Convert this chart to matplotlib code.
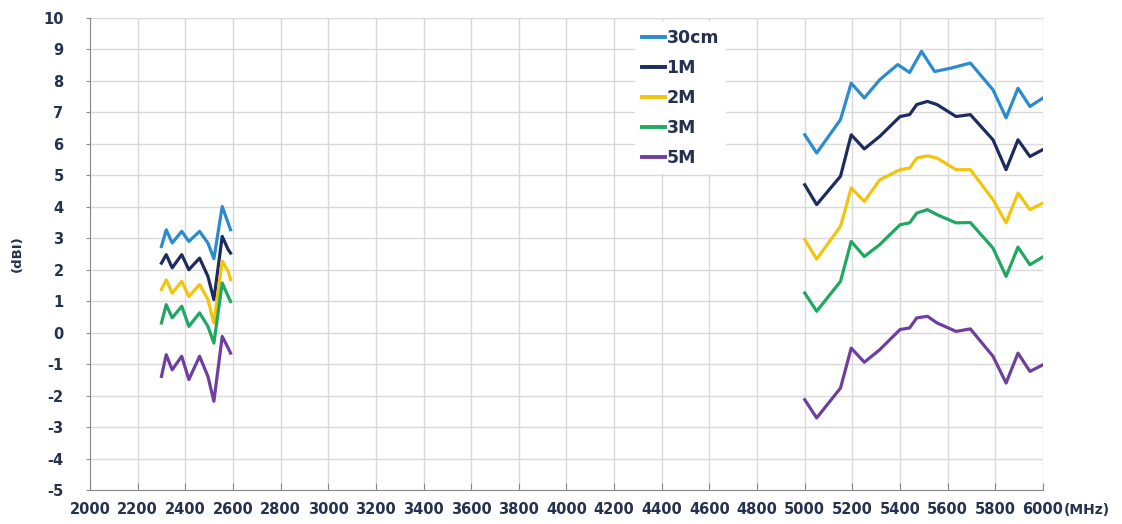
import numpy as np
import matplotlib.pyplot as plt

# Gain vs frequency at different distances
freq_low = [2300, 2320, 2345, 2385, 2415, 2460, 2495, 2520, 2555, 2580, 2590]
low_30cm = [2.74, 3.27, 2.85, 3.22, 2.90, 3.22, 2.85, 2.35, 4.01, 3.48, 3.27]
low_1m = [2.21, 2.48, 2.06, 2.48, 2.00, 2.37, 1.79, 1.05, 3.06, 2.64, 2.53]
low_2m = [1.37, 1.68, 1.26, 1.63, 1.15, 1.53, 1.05, 0.31, 2.27, 1.95, 1.68]
low_3m = [0.31, 0.89, 0.47, 0.84, 0.20, 0.63, 0.20, -0.33, 1.58, 1.15, 0.99]
low_5m = [-1.39, -0.70, -1.18, -0.75, -1.49, -0.75, -1.39, -2.18, -0.12, -0.49, -0.65]

freq_high_30cm = [5000, 5050, 5150, 5195, 5250, 5315, 5390, 5440, 5490, 5545, 5615, 5695, 5790, 5845, 5895, 5945, 6000]
high_30cm = [6.29, 5.71, 6.77, 7.93, 7.46, 8.04, 8.52, 8.27, 8.94, 8.30, 8.41, 8.57, 7.72, 6.83, 7.77, 7.19, 7.46]

freq_high = [5000, 5050, 5150, 5195, 5250, 5315, 5400, 5440, 5470, 5515, 5555, 5635, 5695, 5790, 5845, 5895, 5945, 6000]
high_1m = [4.70, 4.07, 4.97, 6.29, 5.84, 6.24, 6.87, 6.93, 7.25, 7.35, 7.25, 6.87, 6.93, 6.13, 5.18, 6.13, 5.60, 5.82]
high_2m = [2.96, 2.34, 3.38, 4.60, 4.17, 4.86, 5.18, 5.23, 5.55, 5.62, 5.55, 5.18, 5.18, 4.23, 3.49, 4.44, 3.91, 4.12]
high_3m = [1.26, 0.68, 1.63, 2.90, 2.42, 2.80, 3.43, 3.49, 3.80, 3.91, 3.75, 3.49, 3.50, 2.69, 1.79, 2.72, 2.16, 2.41]
high_5m = [-2.13, -2.71, -1.76, -0.49, -0.94, -0.54, 0.10, 0.15, 0.47, 0.52, 0.31, 0.04, 0.12, -0.75, -1.60, -0.65, -1.23, -1.02]

labels = ['30cm', '1M', '2M', '3M', '5M']
colors = ['#2a8ccf', '#1c2c5e', '#f2c40c', '#1ea862', '#6f3f9e']

x_ticks = list(range(2000, 6001, 200))
y_ticks = list(range(-5, 11))

text_color = '#26304f'
plt.rcParams['font.family'] = ['DejaVu Sans']
plt.rcParams['axes.unicode_minus'] = False

fig = plt.figure(figsize=(11.22, 5.24), dpi=100)
ax = fig.add_axes([0.0802, 0.0649, 0.8494, 0.9007])

low_sets = [low_30cm, low_1m, low_2m, low_3m, low_5m]
high_sets = [high_30cm, high_1m, high_2m, high_3m, high_5m]
high_freqs = [freq_high_30cm, freq_high, freq_high, freq_high, freq_high]

for lab, col, lo, hf, hi in zip(labels, colors, low_sets, high_freqs, high_sets):
    ax.plot(freq_low, lo, color=col, lw=2.3, solid_joinstyle='round', label=lab)
    ax.plot(hf, hi, color=col, lw=2.3, solid_joinstyle='round')

ax.set_xlim(2000, 6000)
ax.set_ylim(-5, 10)
ax.set_xticks(x_ticks)
ax.set_yticks(y_ticks)
ax.grid(True, color='#d9d9d9', lw=1)
ax.set_axisbelow(True)

for s in ['top', 'right']:
    ax.spines[s].set_visible(False)
for s in ['left', 'bottom']:
    ax.spines[s].set_color('#8a8a8a')

ax.tick_params(axis='x', direction='in', length=5, color='#8a8a8a', pad=9,
               labelsize=10.5, labelcolor=text_color)
ax.tick_params(axis='y', direction='out', length=3, color='#8a8a8a', pad=16,
               labelsize=10.5, labelcolor=text_color)
for t in ax.get_xticklabels() + ax.get_yticklabels():
    t.set_fontweight('bold')

ax.set_ylabel('(dBI)', fontsize=9.5, fontweight='bold', color=text_color, labelpad=14)
ax.text(1.022, -0.043, '(MHz)', transform=ax.transAxes, fontsize=10,
        fontweight='bold', color=text_color, ha='left', va='center')

leg = ax.legend(loc='upper left', bbox_to_anchor=(0.563, 1.01), frameon=True,
                fancybox=False, edgecolor='none', facecolor='white', framealpha=1,
                handlelength=1.3, handletextpad=0.1, labelspacing=0.69,
                prop={'weight': 'bold', 'size': 12.5})
for t in leg.get_texts():
    t.set_color(text_color)
for h in leg.get_lines():
    h.set_linewidth(2.8)

plt.savefig('out.png', dpi=100)
